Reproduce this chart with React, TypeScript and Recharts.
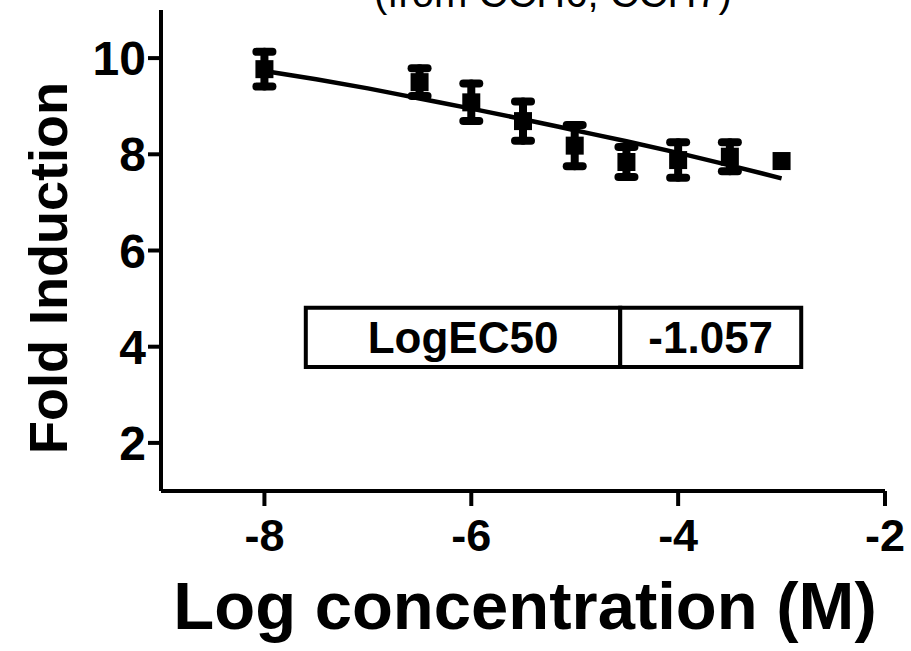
import React from 'react';
import {
  ComposedChart,
  Scatter,
  Line,
  XAxis,
  YAxis,
  ErrorBar,
  ReferenceArea,
  Customized,
} from 'recharts';

// Observed data: log concentration (M), mean fold induction, error (SEM)
const logConc = [-8, -6.5, -6, -5.5, -5, -4.5, -4, -3.5, -3];
const foldInduction = [9.77, 9.5, 9.08, 8.69, 8.18, 7.84, 7.88, 7.95, 7.86];
const errors = [0.36, 0.29, 0.39, 0.41, 0.43, 0.31, 0.37, 0.3, 0];

// Fitted curve
const fitX = [-8, -7.5, -7, -6.5, -6, -5.5, -5, -4.5, -4, -3.5, -3];
const fitY = [9.73, 9.56, 9.37, 9.16, 8.95, 8.73, 8.5, 8.27, 8.03, 7.77, 7.5];

const xTicks = [-8, -6, -4, -2];
const yTicks = [2, 4, 6, 8, 10];

const titleText = '(from CCH6, CCH7)';
const xTitle = 'Log concentration (M)';
const yTitle = 'Fold Induction';
const ec50Label = 'LogEC50';
const ec50Value = '-1.057';

const points = logConc.map((x, i) => ({ x, y: foldInduction[i], err: errors[i] }));
const fit = fitX.map((x, i) => ({ x, fy: fitY[i] }));

const FONT = '"Liberation Sans", Arial, Helvetica, sans-serif';

const SquareShape = (props: any) => {
  const { cx, cy } = props;
  if (cx == null || cy == null) return null;
  return <rect x={cx - 9} y={cy - 9} width={18} height={18} fill="#000" />;
};

const Title = () => (
  <text
    x={553}
    y={7}
    textAnchor="middle"
    fontFamily={FONT}
    fontSize={40}
    fill="#000"
  >
    {titleText}
  </text>
);

const YTitle = () => {
  const cx = 48;
  const cy = 268;
  return (
    <text
      x={cx}
      y={cy}
      transform={`rotate(-90, ${cx}, ${cy})`}
      textAnchor="middle"
      dominantBaseline="central"
      fontFamily={FONT}
      fontWeight="bold"
      fontSize={54}
      fill="#000"
    >
      {yTitle}
    </text>
  );
};

const XTitle = (props: any) => {
  const vb = props.viewBox;
  const cx = vb ? vb.x + vb.width / 2 + 2 : 525;
  return (
    <text
      x={cx}
      y={629}
      textAnchor="middle"
      fontFamily={FONT}
      fontWeight="bold"
      fontSize={67}
      fill="#000"
    >
      {xTitle}
    </text>
  );
};

const tableLabelStyle = {
  fontFamily: FONT,
  fontWeight: 'bold' as const,
  fontSize: 44,
  fill: '#000',
};

export default function App() {
  return (
    <div style={{ position: 'absolute', left: 0, top: 0, width: 911, height: 651, background: '#fff' }}>
      <ComposedChart
        width={911}
        height={651}
        margin={{ top: 10, right: 26, left: 0, bottom: 0 }}
        data={points}
      >
        <XAxis
          type="number"
          dataKey="x"
          domain={[-9, -2]}
          ticks={xTicks}
          allowDataOverflow
          height={160}
          axisLine={{ stroke: '#000', strokeWidth: 4 }}
          tickLine={{ stroke: '#000', strokeWidth: 4 }}
          tickSize={15}
          tickMargin={13}
          tick={{ fill: '#000', fontSize: 45, fontWeight: 'bold', fontFamily: FONT }}
          label={<XTitle />}
        />
        <YAxis
          type="number"
          domain={[1, 11]}
          ticks={yTicks}
          allowDataOverflow
          width={161}
          axisLine={{ stroke: '#000', strokeWidth: 4 }}
          tickLine={{ stroke: '#000', strokeWidth: 4 }}
          tickSize={13}
          tickMargin={2}
          tick={{ fill: '#000', fontSize: 48, fontWeight: 'bold', fontFamily: FONT }}
          label={<YTitle />}
        />
        <ReferenceArea
          x1={-7.6}
          x2={-4.56}
          y1={3.58}
          y2={4.81}
          fill="#fff"
          fillOpacity={1}
          stroke="#000"
          strokeWidth={4}
          label={{ value: ec50Label, position: 'center', style: tableLabelStyle }}
        />
        <ReferenceArea
          x1={-4.56}
          x2={-2.81}
          y1={3.58}
          y2={4.81}
          fill="#fff"
          fillOpacity={1}
          stroke="#000"
          strokeWidth={4}
          label={{ value: ec50Value, position: 'center', style: tableLabelStyle }}
        />
        <Line
          data={fit}
          dataKey="fy"
          type="monotone"
          stroke="#000"
          strokeWidth={4.5}
          dot={false}
          activeDot={false}
          isAnimationActive={false}
        />
        <Scatter
          data={points}
          dataKey="y"
          shape={<SquareShape />}
          isAnimationActive={false}
        >
          <ErrorBar
            dataKey="err"
            direction="y"
            width={8}
            stroke="#000"
            strokeWidth={8}
            strokeLinecap="round"
            isAnimationActive={false}
          />
        </Scatter>
        <Customized component={Title} />
      </ComposedChart>
    </div>
  );
}
